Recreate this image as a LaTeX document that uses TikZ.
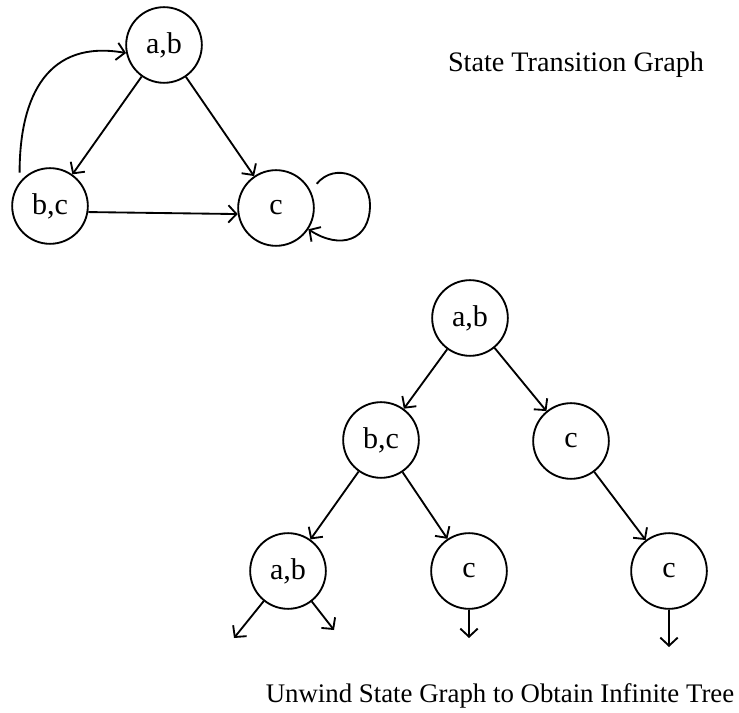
\documentclass[tikz,border=0pt]{standalone}
\usepackage{fontspec}
\setmainfont{Liberation Serif}
\usepackage{tikz}
\usetikzlibrary{arrows.meta,positioning}

\tikzset{
    state/.style={draw, circle, line width=0.8pt, minimum size=1.15cm, inner sep=0pt, font=\fontsize{13}{15}\selectfont},
    trans/.style={->, line width=0.8pt},
    >={Straight Barb[length=3.5pt,width=7.5pt]}
}

\begin{document}
\begin{tikzpicture}[x=0.0152cm, y=0.0152cm]
    \useasboundingbox (0,0) rectangle (739,712);

    % State Transition Graph
    \node[state] (ab1) at (164,667) {a,b};
    \node[state] (bc1) at (50,506) {b,c};
    \node[state] (c1) at (276,504) {c};
    \node[font=\fontsize{12.2}{14}\selectfont] (title) at (576,647) {State Transition Graph};

    \draw[trans] (ab1) -- (bc1);
    \draw[trans] (ab1) -- (c1);
    \draw[trans] (bc1.-9) -- (c1.189);
    \draw[trans] ([shift={(-3,6)}]bc1.135) to[out=90, in=170, looseness=1.25] (ab1.192);

    % Self loop on c
    \coordinate (cloop) at (370,507);
    \draw[trans] ([shift={(9,2)}]c1.35) .. controls +(18,22) and +(0,30) .. (cloop)
        .. controls +(0,-36) and (340,462) .. (c1);

    % Unwound tree
    \node[state] (root) at (470,394) {a,b};
    \node[state] (bc2) at (381,272) {b,c};
    \node[state] (c2) at (571,271) {c};
    \node[state] (ab3) at (288,141) {a,b};
    \node[state] (c3) at (469,141) {c};
    \node[state] (c4) at (669,141) {c};

    \draw[trans] (root) -- (bc2);
    \draw[trans] (root) -- (c2);
    \draw[trans] (bc2) -- (ab3);
    \draw[trans] (bc2) -- (c3);
    \draw[trans] (c2) -- (c4);

    % Leaves going on
    \coordinate (l1) at (234,74);
    \coordinate (l2) at (334,82);
    \coordinate (l3) at (469,74);
    \coordinate (l4) at (669,65);
    \draw[trans] (ab3) -- (l1);
    \draw[trans] (ab3) -- (l2);
    \draw[trans] (c3) -- (l3);
    \draw[trans] (c4) -- (l4);

    \node[font=\fontsize{11.6}{13}\selectfont] (caption) at (500,16) {Unwind State Graph to Obtain Infinite Tree};

\end{tikzpicture}
\end{document}
